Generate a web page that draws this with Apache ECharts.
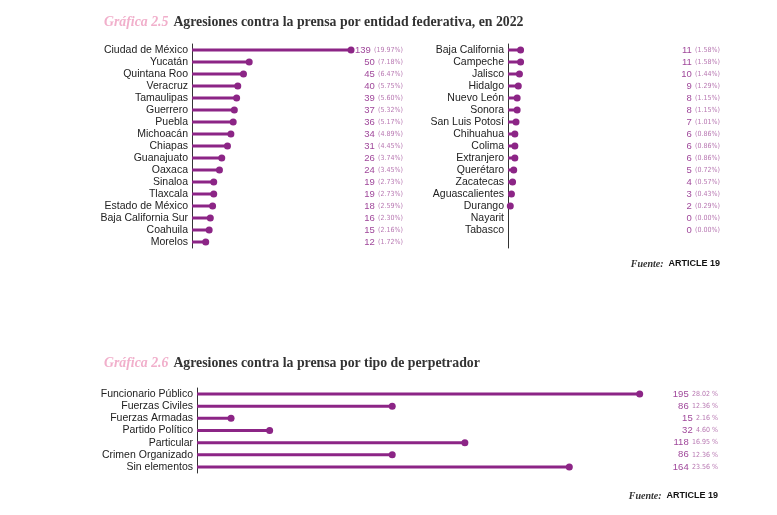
<!DOCTYPE html>
<html><head><meta charset="utf-8">
<script src="https://cdn.jsdelivr.net/npm/echarts@6/dist/echarts.min.js"></script>
<style>html,body{margin:0;padding:0;background:#fff}#c{width:777px;height:515px}</style>
</head><body><div id="c"></div>
<script>
const statesA = ['Ciudad de México','Yucatán','Quintana Roo','Veracruz','Tamaulipas','Guerrero','Puebla','Michoacán','Chiapas','Guanajuato','Oaxaca','Sinaloa','Tlaxcala','Estado de México','Baja California Sur','Coahuila','Morelos'];
const valuesA = [139,50,45,40,39,37,36,34,31,26,24,19,19,18,16,15,12];
const pctA = ['19.97','7.18','6.47','5.75','5.60','5.32','5.17','4.89','4.45','3.74','3.45','2.73','2.73','2.59','2.30','2.16','1.72'];
const statesB = ['Baja California','Campeche','Jalisco','Hidalgo','Nuevo León','Sonora','San Luis Potosí','Chihuahua','Colima','Extranjero','Querétaro','Zacatecas','Aguascalientes','Durango','Nayarit','Tabasco'];
const valuesB = [11,11,10,9,8,8,7,6,6,6,5,4,3,2,0,0];
const pctB = ['1.58','1.58','1.44','1.29','1.15','1.15','1.01','0.86','0.86','0.86','0.72','0.57','0.43','0.29','0.00','0.00'];
const perpetrators = ['Funcionario Público','Fuerzas Civiles','Fuerzas Armadas','Partido Político','Particular','Crimen Organizado','Sin elementos'];
const valuesC = [195,86,15,32,118,86,164];
const pctC = ['28.02','12.36','2.16','4.60','16.95','12.36','23.56'];

const PURPLE = '#8c2586';
const catLabel = {color:'#222', fontFamily:'Liberation Sans', fontSize:10.5, margin:4, interval:0};
const rich = {
  n:{color:'#a0489b', fontFamily:'Liberation Sans', fontSize:9.5},
  p:{color:'#b878b2', fontFamily:"'DejaVu Sans Condensed', 'Liberation Sans Narrow', 'Liberation Sans', sans-serif", fontSize:7}
};
function leftY(grid, data, max){
  const a = {type:'category', gridIndex:grid, data:data, inverse:true,
    axisLine:{show:true, lineStyle:{color:'#333', width:1}}, axisTick:{show:false},
    axisLabel:catLabel, splitLine:{show:false}};
  if (max !== undefined) a.max = max;
  return a;
}
function rightY(grid, data, vals, pcts, paren, max){
  const a = {type:'category', gridIndex:grid, data:data, inverse:true, position:'right',
    axisLine:{show:false}, axisTick:{show:false}, splitLine:{show:false},
    axisLabel:{inside:true, margin:0, interval:0, rich:rich,
      formatter:function(v, i){
        if (vals[i] === undefined) return '';
        return paren ? '{n|' + vals[i] + '} {p|(' + pcts[i] + '%)}'
                     : '{n|' + vals[i] + '} {p|' + pcts[i] + ' %}';
      }}};
  if (max !== undefined) a.max = max;
  return a;
}
function xA(grid, max){
  return {type:'value', gridIndex:grid, min:0, max:max, show:false, splitLine:{show:false}};
}
function bars(idx, yIdx, vals){
  return [
    {type:'bar', xAxisIndex:idx, yAxisIndex:yIdx, data:vals, barWidth:3, itemStyle:{color:PURPLE}, silent:true},
    {type:'scatter', xAxisIndex:idx, yAxisIndex:yIdx, data:vals.map((v,i)=>[v,i]),
      symbolSize:function(d){return d[0] > 0 ? 7 : 0;}, itemStyle:{color:PURPLE, opacity:1}, silent:true}
  ];
}
const titleRich = {a:{fontFamily:'Liberation Serif', fontStyle:'italic', fontSize:13.8, color:'#f1afcb'},
                   b:{fontFamily:'Liberation Serif', fontSize:13.8, color:'#333'}};
const srcRich = {a:{fontFamily:'Liberation Serif', fontStyle:'italic', fontSize:10, color:'#333'},
                 b:{fontFamily:'Liberation Sans', fontWeight:'bold', fontSize:9, color:'#111'}};
const chart = echarts.init(document.getElementById('c'), null, {renderer:'canvas'});
chart.setOption({
  animation:false,
  title:[
    {left:99, top:8, text:'{a|Gráfica 2.5} {b|Agresiones contra la prensa por entidad federativa, en 2022}',
     textStyle:{rich:titleRich}},
    {left:99, top:349, text:'{a|Gráfica 2.6} {b|Agresiones contra la prensa por tipo de perpetrador}',
     textStyle:{rich:titleRich}},
    {right:52, top:250, text:'{a|Fuente:} {b|ARTICLE 19}', textStyle:{rich:srcRich}},
    {right:54, top:482, text:'{a|Fuente:} {b|ARTICLE 19}', textStyle:{rich:srcRich}}
  ],
  grid:[
    {left:192, top:44, width:211, height:204},
    {left:508, top:44, width:212, height:204},
    {left:197, top:388, width:521, height:85}
  ],
  xAxis:[xA(0,184.4), xA(1,185.3), xA(2,229.5)],
  yAxis:[
    leftY(0, statesA), rightY(0, statesA, valuesA, pctA, true),
    leftY(1, statesB, 16), rightY(1, statesB, valuesB, pctB, true, 16),
    leftY(2, perpetrators), rightY(2, perpetrators, valuesC, pctC, false)
  ],
  series:[].concat(bars(0,0,valuesA), bars(1,2,valuesB), bars(2,4,valuesC))
});
</script></body></html>
